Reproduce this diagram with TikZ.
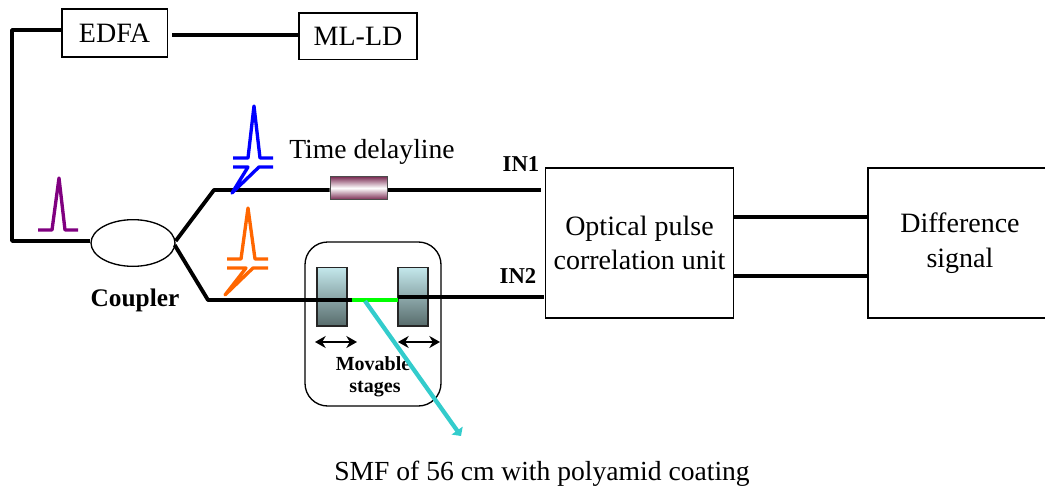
\documentclass[tikz,border=0pt]{standalone}
\usepackage{fontspec}
\setmainfont{Liberation Serif}
\usetikzlibrary{shapes.geometric,arrows.meta}
\definecolor{pulsepurple}{RGB}{128,0,128}
\definecolor{pulseblue}{RGB}{0,0,255}
\definecolor{pulseorange}{RGB}{255,102,0}
\definecolor{fibgreen}{RGB}{0,255,0}
\definecolor{fibcyan}{RGB}{51,204,204}
\definecolor{stagetop}{RGB}{196,232,236}
\definecolor{stagebot}{RGB}{88,108,108}
\definecolor{delayrim}{RGB}{120,40,80}
\tikzset{
  box/.style={draw,line width=1pt,inner sep=0pt,font=\fontsize{21}{26}\selectfont,align=center},
  fibre/.style={line width=2.9pt,line join=round},
  link/.style={line width=2.7pt,line join=round},
  pulse/.style={line width=2.5pt,line join=round},
  lab/.style={inner sep=0pt,font=\fontsize{20.7}{25}\selectfont,align=center},
  blab/.style={inner sep=0pt,font=\bfseries\fontsize{15}{18}\selectfont},
  inlab/.style={inner sep=0pt,font=\bfseries\fontsize{17}{20}\selectfont},
  stagebox/.style={draw=black!85,line width=1pt,inner sep=0pt,minimum width=22.5pt,minimum height=44pt,top color=stagetop,bottom color=stagebot},
  delaybox/.style={draw=black!70,line width=1pt,inner sep=0pt,minimum width=43pt,minimum height=17.5pt,top color=delayrim,bottom color=delayrim,middle color=white},
  twohead/.style={{Stealth[length=8pt,width=9pt]}-{Stealth[length=8pt,width=9pt]},line width=2.1pt},
}
\begin{document}
\begin{tikzpicture}[x=0.75pt,y=-0.75pt]
\useasboundingbox (0,0) rectangle (1045,492);
\node[box,minimum width=79pt,minimum height=36pt] (edfa) at (114.5,33) {EDFA};
\node[box,minimum width=88.5pt,minimum height=35pt] (ml) at (358,36.5) {ML-LD};
\node[box,minimum width=141pt,minimum height=112.5pt] (corr) at (639.5,243) {Optical pulse\\correlation unit};
\node[box,minimum width=138pt,minimum height=112.5pt] (diff) at (960,243) {Difference\\signal};
\node[draw,ellipse,line width=1pt,minimum width=63pt,minimum height=35pt,inner sep=0pt] (coupler) at (133,243) {};
\node[inner sep=0pt,font=\bfseries\fontsize{19}{22}\selectfont] (couplerlab) at (135,300) {Coupler};
% fibres
\coordinate (c1) at (12,30);
\coordinate (c2) at (12,241);
\draw[link] (edfa.west |- c1) -- (c1) -- (c2) -- (coupler.west |- c2);
\coordinate (e1) at (172,35);
\coordinate (e2) at (299,35);
\draw[link] (e1) -- (e2);
\coordinate (u1) at (214,190);
\coordinate (u4) at (541,190);
\coordinate (l1) at (208,300);
\coordinate (l2) at (352,300);
\coordinate (l3g) at (398,300);
\coordinate (l3) at (398,297);
\coordinate (l4) at (544,297);
% stage frame
\draw[line width=1pt,rounded corners=17pt] (305,242) rectangle (441,406);
\node[stagebox] (st1) at (332,296.5) {};
\node[stagebox] (st2) at (413,296.5) {};
\node[delaybox] (delay) at (359,188) {};
\draw[fibre] (coupler.east) ++(0,-2) -- (u1) -- (delay.west |- u1);
\draw[fibre] (delay.east |- u4) -- (u4);
\draw[fibre] (coupler.east) ++(-1,2) -- (l1) -- (l2);
\draw[line width=2.9pt,fibgreen] (l2) -- (l3g);
\draw[fibre] (l3) -- (l4);
\coordinate (d1) at (733,217);
\coordinate (d2) at (868,217);
\coordinate (d3) at (733,276);
\coordinate (d4) at (868,276);
\draw[link] (d1) -- (d2);
\draw[link] (d3) -- (d4);
% arrows under stages
\coordinate (a1) at (315,342);
\coordinate (a2) at (357,342);
\coordinate (a3) at (398,342);
\coordinate (a4) at (440,342);
\draw[twohead] (a1) -- (a2);
\draw[twohead] (a3) -- (a4);
\node[blab] (mov) at (373,364) {Movable};
\node[blab] (sta) at (375,389) {stages};
% cyan fibre
\coordinate (cy1) at (365,301);
\coordinate (cy2) at (461,436);
\draw[line width=3.2pt,fibcyan,-{Triangle[length=5pt,width=10pt]}] (cy1) -- (cy2);
% pulses
\draw[pulse,pulsepurple] (38,230) -- (52,230) -- (59,178) -- (65,230) -- (78,230);
\draw[pulse,pulseblue] (233,158) -- (248,158) -- (254,106) -- (260,158) -- (273,158);
\draw[pulse,pulseblue] (273,167) -- (259,167) -- (232,193) -- (248,167) -- (233,167);
\draw[pulse,pulseorange] (227,259) -- (241,259) -- (248,208) -- (255,259) -- (268,259);
\draw[pulse,pulseorange] (268,268) -- (253,268) -- (225,295) -- (246,268) -- (227,268);
% labels
\node[lab] (td) at (372,152) {Time delayline};
\node[inlab] (in1) at (521,164) {IN1};
\node[inlab] (in2) at (518,276) {IN2};
\node[lab] (smf) at (542,474) {SMF of 56 cm with polyamid coating};
\end{tikzpicture}
\end{document}
